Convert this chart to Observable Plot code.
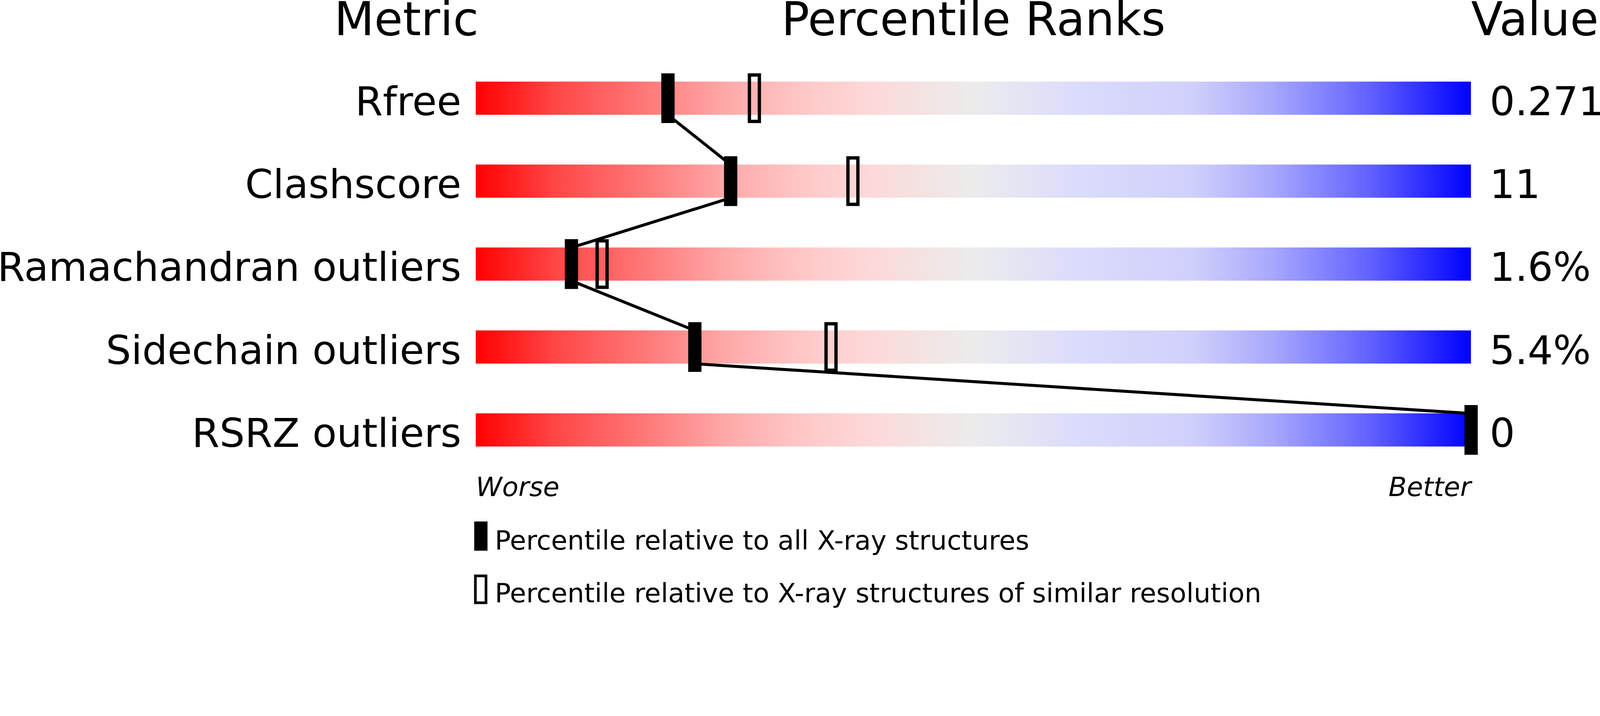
<!DOCTYPE html>
<html>
<head>
<meta charset="utf-8">
<script src="https://cdn.jsdelivr.net/npm/d3@7"></script>
<script src="https://cdn.jsdelivr.net/npm/@observablehq/plot@0.6"></script>
<style>
html, body { margin: 0; padding: 0; background: #fff; overflow: hidden; }
</style>
</head>
<body>
<div id="chart"></div>
<script>
// ---- data ----
const metrics = ["Rfree", "Clashscore", "Ramachandran outliers", "Sidechain outliers", "RSRZ outliers"];
const valueLabels = ["0.271", "11", "1.6%", "5.4%", "0"];
const pctAll = [19.3, 25.6, 9.6, 22.0, 100];          // percentile vs all X-ray structures
const pctSimilar = [28.0, 37.9, 12.7, 35.7, null];    // percentile vs similar resolution
const headers = ["Metric", "Percentile Ranks", "Value"];
const axisEnds = ["Worse", "Better"];
const legendLabels = [
  "Percentile relative to all X-ray structures",
  "Percentile relative to X-ray structures of similar resolution"
];
const gradientOffsets = [0, 0.08, 0.17, 0.25, 0.33, 0.40, 0.50, 0.60, 0.72, 0.80, 0.90, 1];
const gradientColors = ["#ff0000", "#ff4646", "#ff7878", "#ffa8a8", "#ffc8c8", "#fdd9d9",
                        "#ececec", "#dcdcfc", "#d0d0fc", "#a8a8fd", "#6060ff", "#0000ff"];

// ---- derived tables ----
const rows = metrics.map((m, i) => ({metric: m, row: i, value: valueLabels[i], all: pctAll[i], similar: pctSimilar[i]}));
const links = d3.pairs(rows).map(([a, b]) => ({x1: a.all, y1: a.row + 0.2, x2: b.all, y2: b.row - 0.2}));
const similarRows = rows.filter(d => d.similar != null);

const font = "DejaVu Sans";

const chart = Plot.plot({
  width: 4823,
  height: 1833,
  margin: 0,
  style: {fontFamily: font, background: "white", color: "black"},
  x: {domain: [0, 100], range: [1434, 4434], axis: null},
  y: {type: "linear", domain: [0, 4], range: [296, 1296], axis: null},
  marks: [
    // gradient slider bars
    Plot.rect(rows, {x1: 0, x2: 100, y1: d => d.row - 0.2, y2: d => d.row + 0.2, fill: "url(#slider-gradient)"}),
    // connecting line between "all structures" markers
    Plot.link(links, {x1: "x1", y1: "y1", x2: "x2", y2: "y2", stroke: "black", strokeWidth: 9}),
    // open markers (similar resolution)
    Plot.rect(similarRows, {x1: "similar", x2: "similar", y1: d => d.row - 0.28, y2: d => d.row + 0.28,
      insetLeft: -15, insetRight: -15, fill: "none", stroke: "black", strokeWidth: 10}),
    // filled markers (all structures)
    Plot.ruleX(rows, {x: "all", y1: d => d.row - 0.3, y2: d => d.row + 0.3, stroke: "black", strokeWidth: 40}),
    // metric labels
    Plot.text(rows, {x: 0, y: "row", text: "metric", textAnchor: "end", lineAnchor: "middle", dx: -44, dy: 12, fontSize: 120, fill: "black"}),
    // value labels
    Plot.text(rows, {x: 100, y: "row", text: "value", textAnchor: "start", lineAnchor: "middle", dx: 56, dy: 12, fontSize: 120, fill: "black"}),
    // column headers
    Plot.text([headers[0]], {x: 0, y: -0.76, text: d => d, textAnchor: "end", lineAnchor: "bottom", dx: 8, fontSize: 140, fill: "black"}),
    Plot.text([headers[1]], {x: 50, y: -0.76, text: d => d, textAnchor: "middle", lineAnchor: "bottom", fontSize: 140, fill: "black"}),
    Plot.text([headers[2]], {x: 100, y: -0.76, text: d => d, textAnchor: "start", lineAnchor: "bottom", fontSize: 140, fill: "black"}),
    // worse / better
    Plot.text([axisEnds[0]], {x: 0, y: 4.796, text: d => d, textAnchor: "start", lineAnchor: "bottom", fontStyle: "italic", fontSize: 80, fill: "black"}),
    Plot.text([axisEnds[1]], {x: 100, y: 4.796, text: d => d, textAnchor: "end", lineAnchor: "bottom", fontStyle: "italic", fontSize: 80, fill: "black"}),
    // legend swatches
    Plot.ruleX([legendLabels[0]], {x: 0.5, y1: 5.104, y2: 5.456, stroke: "black", strokeWidth: 40}),
    Plot.rect([legendLabels[1]], {x1: 0.5, x2: 0.5, y1: 5.76, y2: 6.084, insetLeft: -16, insetRight: -16, fill: "none", stroke: "black", strokeWidth: 8}),
    // legend labels
    Plot.text(legendLabels, {x: 1.9, y: (d, i) => i === 0 ? 5.44 : 6.076, text: d => d, textAnchor: "start", lineAnchor: "bottom", fontSize: 80, fill: "black"})
  ]
});

// gradient definition used by the slider bars
const defs = d3.select(chart).insert("defs", ":first-child");
const grad = defs.append("linearGradient").attr("id", "slider-gradient").attr("x1", "0").attr("x2", "1").attr("y1", "0").attr("y2", "0");
grad.selectAll("stop").data(gradientOffsets).join("stop")
  .attr("offset", d => d)
  .attr("stop-color", (d, i) => gradientColors[i]);

document.getElementById("chart").appendChild(chart);
</script>
</body>
</html>
